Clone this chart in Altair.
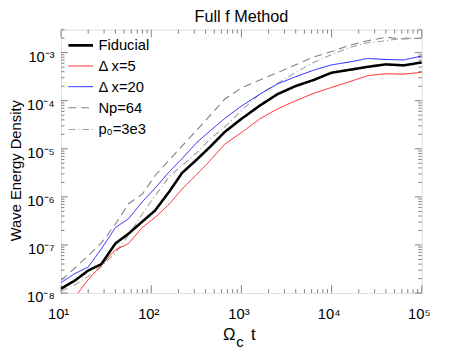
import altair as alt
import pandas as pd

# ---- data ----
t = [10, 14, 20, 28, 40, 56, 80, 110, 160, 220, 320, 450, 650, 1000,
     1600, 2500, 4000, 6300, 10000, 16000, 25000, 40000, 63000, 100000]

fiducial = [1.24e-8, 1.78e-8, 2.94e-8, 4.0e-8, 1.07e-7, 1.72e-7, 3.09e-7, 5.18e-7,
            1.32e-6, 3.16e-6, 5.97e-6, 1.10e-5, 2.22e-5, 4.19e-5, 7.91e-5, 1.36e-4,
            2.02e-4, 2.69e-4, 3.82e-4, 4.40e-4, 5.06e-4, 5.69e-4, 5.43e-4, 6.25e-4]
dx5 = [3.9e-9, 7.9e-9, 1.91e-8, 3.80e-8, 7.91e-8, 1.07e-7, 2.33e-7, 3.72e-7,
       7.20e-7, 1.46e-6, 2.94e-6, 5.69e-6, 1.24e-5, 2.17e-5, 4.19e-5, 6.71e-5,
       1.0e-4, 1.42e-4, 1.89e-4, 2.50e-4, 3.31e-4, 3.64e-4, 3.56e-4, 3.91e-4]
dx20 = [1.65e-8, 2.50e-8, 3.48e-8, 8.28e-8, 2.30e-7, 3.51e-7, 8.02e-7, 1.51e-6,
        3.40e-6, 6.25e-6, 1.35e-5, 2.36e-5, 4.24e-5, 7.73e-5, 1.36e-4, 2.22e-4,
        3.16e-4, 4.30e-4, 5.56e-4, 6.40e-4, 7.55e-4, 7.19e-4, 7.03e-4, 8.49e-4]
np64 = [1.84e-8, 3.24e-8, 5.97e-8, 1.10e-7, 2.69e-7, 7.20e-7, 1.15e-6, 2.75e-6,
        5.97e-6, 1.15e-5, 2.44e-5, 4.94e-5, 1.07e-4, 1.84e-4, 2.69e-4, 3.82e-4,
        5.56e-4, 8.09e-4, 1.05e-3, 1.42e-3, 1.76e-3, 2.07e-3, 1.93e-3, 1.98e-3]
p0 = [1.10e-8, 1.46e-8, 2.22e-8, 3.56e-8, 6.87e-8, 1.60e-7, 4.50e-7, 1.05e-6,
      2.69e-6, 4.50e-6, 8.28e-6, 1.60e-5, 2.81e-5, 6.25e-5, 1.39e-4, 2.27e-4,
      3.91e-4, 6.25e-4, 9.10e-4, 1.29e-3, 1.60e-3, 1.76e-3, 2.02e-3, 1.96e-3]

names = ["Fiducial", "Δ x=5", "Δ x=20", "Np=64", "p₀=3e3"]
series_vals = [fiducial, dx5, dx20, np64, p0]
colors = ["#000000", "#ff0000", "#0000ff", "#808080", "#a0a0a0"]
dashes = [[1, 0], [1, 0], [1, 0], [8, 5], [7, 3, 1, 3]]
widths = [2.6, 0.9, 0.9, 1.1, 1.1]

x_major = [10, 100, 1000, 10000, 100000]
y_major = [1e-8, 1e-7, 1e-6, 1e-5, 1e-4, 1e-3]
x_minor = [k * 10 ** d for d in range(1, 5) for k in range(2, 10)]
y_minor = [k * 10.0 ** d for d in range(-8, -2) for k in range(2, 10) if k * 10.0 ** d <= 3e-3]

# ---- layout ----
W, H = 367, 268
FONT = "Liberation Sans"
NARROW = "Liberation Sans Narrow, Liberation Sans"
GRAY = "#808080"

rows = []
draw_order = [3, 4, 2, 1, 0]
for i in draw_order:
    for ti, v in zip(t, series_vals[i]):
        rows.append({"series": names[i], "t": ti, "E": v})
df = pd.DataFrame(rows)

xscale = alt.Scale(type="log", domain=[10, 1e5], nice=False)
yscale = alt.Scale(type="log", domain=[1e-8, 3e-3], nice=False)

sup = str.maketrans("-0123456789", "⁻⁰¹²³⁴⁵⁶⁷⁸⁹")
def label_expr(exps):
    expr = "''"
    for e in exps:
        lab = "10" + str(e).translate(sup)
        expr = f"round(log(datum.value)/LN10) == {e} ? '{lab}' : ({expr})"
    return expr

xaxis = alt.Axis(values=x_major, ticks=False, domain=False, grid=False,
                 labelExpr=label_expr(range(1, 6)), labelFont=FONT,
                 labelFontSize=15, labelColor="black", labelPadding=14,
                 labelOffset=-3, labelFlush=False, title=None)
yaxis = alt.Axis(values=y_major, ticks=False, domain=False, grid=False,
                 labelExpr=label_expr(range(-8, -2)), labelFont=FONT,
                 labelFontSize=15, labelColor="black", labelPadding=7,
                 labelOffset=4, labelFlush=False, title="Wave Energy Density",
                 titleFont=NARROW, titleFontSize=15, titleFontWeight="normal",
                 titleColor="black", titleBaseline="alphabetic", titleX=-41, titleY=143)

legend = alt.Legend(orient="none", legendX=6, legendY=2, title=None, symbolType="stroke",
                    symbolSize=625, labelFont=FONT, labelFontSize=15, labelColor="black",
                    rowPadding=-9, padding=0, labelOffset=4, symbolOpacity=1)

lines = alt.Chart(df).mark_line(clip=True).encode(
    x=alt.X("t:Q", scale=xscale, axis=xaxis),
    y=alt.Y("E:Q", scale=yscale, axis=yaxis),
    color=alt.Color("series:N", scale=alt.Scale(domain=names, range=colors), legend=legend),
    strokeDash=alt.StrokeDash("series:N", scale=alt.Scale(domain=names, range=dashes), legend=legend),
    strokeWidth=alt.StrokeWidth("series:N", scale=alt.Scale(type="ordinal", domain=names, range=widths),
                                legend=legend),
)

def xticks(vals, length):
    d = pd.DataFrame({"v": vals})
    bot = alt.Chart(d).mark_rule(color=GRAY, strokeWidth=1).encode(
        x=alt.X("v:Q", scale=xscale, axis=xaxis), y=alt.value(H), y2=alt.value(H - length))
    top = alt.Chart(d).mark_rule(color=GRAY, strokeWidth=1).encode(
        x=alt.X("v:Q", scale=xscale, axis=xaxis), y=alt.value(0), y2=alt.value(length))
    return [bot, top]

def yticks(vals, length):
    d = pd.DataFrame({"v": vals})
    left = alt.Chart(d).mark_rule(color=GRAY, strokeWidth=1).encode(
        y=alt.Y("v:Q", scale=yscale, axis=yaxis), x=alt.value(0), x2=alt.value(length))
    right = alt.Chart(d).mark_rule(color=GRAY, strokeWidth=1).encode(
        y=alt.Y("v:Q", scale=yscale, axis=yaxis), x=alt.value(W), x2=alt.value(W - length))
    return [left, right]

tick_layers = (xticks(x_major, 8) + xticks(x_minor, 4) +
               yticks(y_major, 7) + yticks(y_minor, 3.5))

one = pd.DataFrame({"a": [0]})
def txt(s, x, y, size):
    return alt.Chart(one).mark_text(font=FONT, fontSize=size, color="black",
                                    align="center", baseline="alphabetic").encode(
        x=alt.value(x), y=alt.value(y), text=alt.value(s))

xtitle = [txt("Ω", 171, 316, 17), txt("c", 182, 323, 15), txt("t", 195.5, 316, 17)]

chart = alt.layer(*tick_layers, lines, *xtitle).properties(
    width=W, height=H,
    title=alt.TitleParams("Full f Method", font=FONT, fontSize=16.5, fontWeight="normal",
                          color="black", anchor="middle", offset=4),
    padding={"left": 54, "top": 19, "right": 45, "bottom": 61},
    autosize=alt.AutoSizeParams(type="none"),
).configure_view(stroke=GRAY, strokeWidth=1).configure(background="white")

chart.save("out.html", embed_options={"renderer": "svg", "actions": False})
